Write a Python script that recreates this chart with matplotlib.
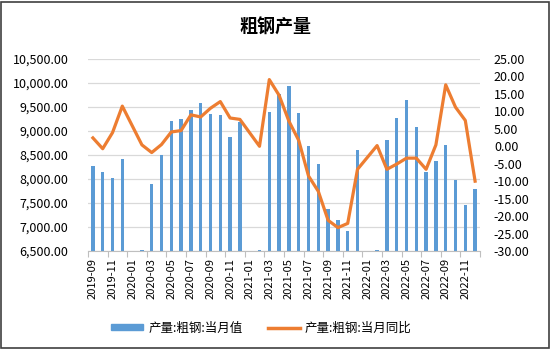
import numpy as np
import pandas as pd
import matplotlib
matplotlib.use("Agg")
import matplotlib.pyplot as plt
from matplotlib.patches import Rectangle
from matplotlib.lines import Line2D
from matplotlib.ticker import FuncFormatter, MultipleLocator, FixedLocator

plt.rcParams['font.family'] = ['Noto Sans CJK SC', 'DejaVu Sans']

months = [str(p) for p in pd.period_range('2019-09', '2022-12', freq='M')]
nan = np.nan
output_vals = [8273, 8142, 8024, 8418, nan, 6530, 7893, 8501, 9214, 9241,
               9428, 9580, 9345, 9324, 8868, 9186, nan, 6530, 9387, 9774,
               9947, 9380, 8681, 8315, 7367, 7146, 6924, 8612, nan, 6530,
               8819, 9276, 9656, 9075, 8142, 8377, 8702, 7969, 7450, 7782]
yoy_vals = [2.4, -0.7, 3.9, 11.5, nan, 0.4, -1.8, 0.5, 4.1, 4.5,
            9.0, 8.4, 10.9, 12.8, 8.1, 7.7, nan, 0.0, 19.1, 14.6,
            7.2, 1.7, -8.5, -12.9, -21.2, -23.3, -22.1, -6.6, nan, 0.2,
            -6.6, -5.1, -3.4, -3.4, -6.6, 0.4, 17.6, 11.2, 7.4, -10.0]
label_bar = '产量:粗钢:当月值'
label_line = '产量:粗钢:当月同比'
title = '粗钢产量'

W, H = 550, 349
fig = plt.figure(figsize=(W / 100, H / 100), dpi=100)
fig.subplots_adjust(left=88 / W, right=480 / W, top=1 - 59 / H, bottom=1 - 251 / H)
ax = fig.add_subplot(111)
ax2 = ax.twinx()

x = np.arange(len(months))
bar_c = '#5B9BD5'
line_c = '#ED7D31'

ov = np.array(output_vals, dtype=float)
ax.bar(x, ov - 6500, bottom=6500, width=0.36, color=bar_c, zorder=2)
ax.set_ylim(6500, 10500)
ax.yaxis.set_major_locator(MultipleLocator(500))
ax.yaxis.set_major_formatter(FuncFormatter(lambda v, p: f'{v:,.2f}'))
ax.grid(axis='y', color='#d9d9d9', lw=0.9, zorder=0)
ax.set_axisbelow(True)
ax.set_xlim(-0.5, len(months) - 0.5)

yv = np.array(yoy_vals, dtype=float)
m = ~np.isnan(yv)
ax2.plot(x[m], yv[m], color=line_c, lw=2.3, solid_joinstyle='round', zorder=3)
ax2.set_ylim(-30, 25)
ax2.yaxis.set_major_locator(MultipleLocator(5))
ax2.yaxis.set_major_formatter(FuncFormatter(lambda v, p: f'{v:.2f}'))

ax.set_xticks(x[::2])
ax.set_xticklabels(months[::2], rotation=90, fontsize=8)
ax.xaxis.set_minor_locator(FixedLocator(np.arange(-0.5, len(months), 2)))
ax.tick_params(axis='x', which='major', length=0, pad=5)
ax.tick_params(axis='x', which='minor', length=4, color='#bfbfbf', width=0.8)
ax.tick_params(axis='y', length=0, labelsize=9, pad=14)
ax2.tick_params(axis='y', length=0, labelsize=9, pad=10)

for a in (ax, ax2):
    for s in ('top', 'left', 'right'):
        a.spines[s].set_visible(False)
    a.spines['bottom'].set_color('#bfbfbf')
ax2.spines['bottom'].set_visible(False)

fig.text(0.5, 1 - 27 / H, title, ha='center', va='center', fontsize=13, fontweight='bold')

handles = [Rectangle((0, 0), 1, 1, color=bar_c), Line2D([0], [0], color=line_c, lw=2.5)]
fig.legend(handles, [label_bar, label_line], loc='center', bbox_to_anchor=(0.475, 1 - 328 / H),
           ncol=2, frameon=False, fontsize=9, handlelength=2.6, handleheight=0.45,
           columnspacing=2.0, handletextpad=0.4)

fig.patches.append(Rectangle((1 / W, 1 / H), 1 - 2.5 / W, 1 - 2.5 / H, transform=fig.transFigure,
                             fill=False, edgecolor='#404040', lw=1.2))
fig.savefig('out.png', dpi=100)
